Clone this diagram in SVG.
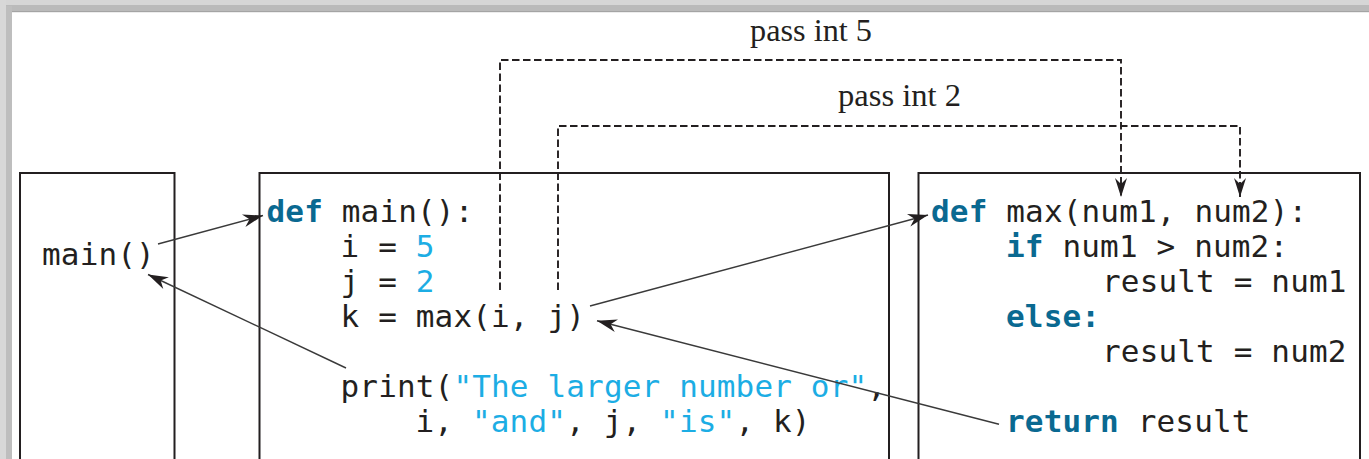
<svg xmlns="http://www.w3.org/2000/svg" width="1369" height="459" viewBox="0 0 1369 459">
  <style>
    .code { font-family: "DejaVu Sans Mono", "Liberation Mono", monospace; font-size: 31px; fill: #231f20; letter-spacing: 0.15px; white-space: pre; }
    .kw { font-weight: bold; fill: #0a6991; }
    .lit { fill: #1cade4; }
    .label { font-family: "Liberation Serif", "Times New Roman", serif; font-size: 32px; fill: #231f20; }
    .frame { fill: none; stroke: #231f20; stroke-width: 2; }
    .call { fill: none; stroke: #3a3a3a; stroke-width: 1.4; }
    .pass { fill: none; stroke: #231f20; stroke-width: 1.9; stroke-dasharray: 7.5 3.5; }
  </style>
  <defs>
    <marker id="head" viewBox="-21 -8 22 16" markerWidth="22" markerHeight="16" refX="0" refY="0" markerUnits="userSpaceOnUse" orient="auto">
      <path d="M0,0 L-20,-6.5 L-14,0 L-20,6.5 Z" fill="#231f20"/>
    </marker>
    <marker id="dhead" viewBox="-21 -8 22 16" markerWidth="22" markerHeight="16" refX="0" refY="0" markerUnits="userSpaceOnUse" orient="auto">
      <path d="M0,0 L-19,-6 L-13,0 L-19,6 Z" fill="#231f20"/>
    </marker>
  </defs>

  <!-- page background and shaded page edge -->
  <rect x="0" y="0" width="1369" height="459" fill="#ffffff"/>
  <rect x="0" y="0" width="1369" height="5" fill="#d6d6d6"/>
  <rect x="5" y="5" width="1364" height="6" fill="#bababa"/>
  <rect x="11" y="11" width="1358" height="1.2" fill="#a4a4a4"/>
  <rect x="0" y="0" width="6" height="459" fill="#d8d8d8"/>
  <rect x="6" y="6" width="6" height="453" fill="#bebebe"/>

  <!-- caller: main() -->
  <g id="caller">
    <path class="frame" d="M20,470 V173 H174.5 V470"/>
    <text class="code" x="42" y="265">main()</text>
  </g>

  <!-- main function body -->
  <g id="main-def">
    <path class="frame" d="M259.5,470 V173 H889 V470"/>
    <text class="code" x="266.5" y="222"><tspan class="kw">def</tspan> main():</text>
    <text class="code" x="340.5" y="257">i = <tspan class="lit">5</tspan></text>
    <text class="code" x="340.5" y="292">j = <tspan class="lit">2</tspan></text>
    <text class="code" x="340.5" y="327">k = max(i, j)</text>
    <text class="code" x="340.5" y="397">print(<tspan class="lit">"The larger number or"</tspan>,</text>
    <text class="code" x="415.5" y="432">i, <tspan class="lit">"and"</tspan>, j, <tspan class="lit">"is"</tspan>, k)</text>
  </g>

  <!-- max function body -->
  <g id="max-def">
    <path class="frame" d="M918.5,470 V173 H1360 V470"/>
    <text class="code" x="931" y="222"><tspan class="kw">def</tspan> max(num1, num2):</text>
    <text class="code" x="1006" y="257"><tspan class="kw">if</tspan> num1 &gt; num2:</text>
    <text class="code" x="1102" y="292">result = num1</text>
    <text class="code" x="1006" y="327"><tspan class="kw">else:</tspan></text>
    <text class="code" x="1102" y="362">result = num2</text>
    <text class="code" x="1006" y="432"><tspan class="kw">return</tspan> result</text>
  </g>

  <!-- labels for the argument passing -->
  <g id="pass-labels">
    <text class="label" x="750" y="41" textLength="122" lengthAdjust="spacingAndGlyphs">pass int 5</text>
    <text class="label" x="838" y="106" textLength="123" lengthAdjust="spacingAndGlyphs">pass int 2</text>
  </g>

  <!-- connectors -->
  <g id="connectors">
    <path class="pass" d="M500,290 V60 H1121 V197" marker-end="url(#dhead)"/>
    <path class="pass" d="M558,290 V126 H1240 V197" marker-end="url(#dhead)"/>
    <line class="call" x1="158" y1="244" x2="263" y2="215.5" marker-end="url(#head)"/>
    <line class="call" x1="346" y1="368" x2="148" y2="274.5" marker-end="url(#head)"/>
    <line class="call" x1="590" y1="306" x2="928" y2="215" marker-end="url(#head)"/>
    <line class="call" x1="999" y1="424.3" x2="597" y2="320.7" marker-end="url(#head)"/>
  </g>
</svg>
